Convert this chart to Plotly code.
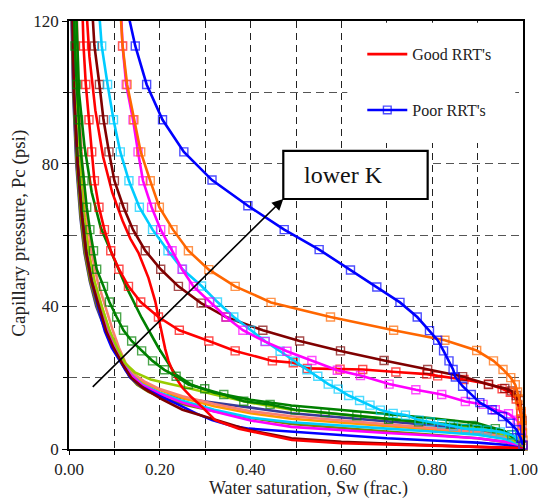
import plotly.graph_objects as go

FONT = "Liberation Serif"

# ---------------- Good RRT's (solid lines, no markers) ----------------
good_navy_sw = [0.004, 0.009, 0.016, 0.025, 0.034, 0.046, 0.060, 0.078, 0.093, 0.108, 0.125, 0.145, 0.175, 0.21, 0.26, 0.32, 0.40, 0.49, 0.60, 0.70, 0.80, 0.90, 0.96, 1.0]
good_navy_pc = [130, 100, 80, 65, 55, 47, 40, 34, 30, 26, 22, 19, 16.8, 15.2, 14.0, 12.9, 11.6, 10.0, 8.9, 7.9, 6.7, 5.2, 3.6, 0.5]

good_olive_sw = [0.005, 0.010, 0.017, 0.026, 0.035, 0.047, 0.062, 0.080, 0.095, 0.110, 0.122, 0.132, 0.150, 0.175, 0.21, 0.26, 0.32, 0.40, 0.49, 0.60, 0.70, 0.80, 0.90, 0.96, 1.0]
good_olive_pc = [130, 100, 80, 65, 55, 47, 40, 34, 30, 26, 23, 20.5, 18, 16, 14.2, 12.3, 10.6, 8.7, 7.0, 5.8, 4.9, 4.0, 3.0, 2.0, 0.3]

good_blue_sw = [0.006, 0.011, 0.019, 0.029, 0.038, 0.050, 0.064, 0.079, 0.094, 0.116, 0.135, 0.160, 0.197, 0.24, 0.28, 0.315, 0.356, 0.396, 0.49, 0.60, 0.70, 0.80, 0.90, 0.96, 1.0]
good_blue_pc = [130, 100, 80, 65, 55, 47, 40, 33, 28.4, 23.8, 20, 17.5, 15, 12.5, 10, 8.1, 6.6, 5.7, 4.8, 3.8, 3.0, 2.4, 1.8, 1.2, 0.2]

good_maroon_sw = [0.006, 0.011, 0.019, 0.029, 0.038, 0.050, 0.066, 0.082, 0.098, 0.118, 0.137, 0.165, 0.204, 0.25, 0.315, 0.396, 0.49, 0.60, 0.70, 0.80, 0.90, 1.0]
good_maroon_pc = [130, 100, 80, 65, 55, 47, 40, 33, 28.4, 23.8, 20, 17, 14, 11, 8.5, 5.3, 3.0, 2.0, 1.5, 1.0, 0.6, 0.1]

good_red_sw = [0.035, 0.045, 0.058, 0.075, 0.095, 0.118, 0.135, 0.153, 0.175, 0.190, 0.197, 0.205, 0.212, 0.219, 0.234, 0.249, 0.27, 0.293, 0.322, 0.374, 0.454, 0.491, 0.60, 0.70, 0.80, 0.90, 1.0]
good_red_pc = [130, 110, 95, 82, 72, 64, 59, 55, 48, 41.4, 37, 32, 28, 24.7, 20.2, 17.3, 14.5, 11.8, 8.1, 5.7, 3.4, 2.5, 1.6, 1.2, 0.9, 0.6, 0.3]

good_magenta_sw = [0.008, 0.013, 0.021, 0.031, 0.040, 0.052, 0.068, 0.085, 0.100, 0.118, 0.135, 0.160, 0.20, 0.25, 0.32, 0.40, 0.49, 0.60, 0.70, 0.80, 0.90, 0.96, 1.0]
good_magenta_pc = [130, 100, 80, 65, 55, 47, 40, 33, 28.4, 24, 21, 18, 15.5, 13, 10.5, 8.0, 6.2, 5.2, 4.5, 3.8, 3.0, 2.0, 0.4]

good_cyan_sw = [0.009, 0.014, 0.022, 0.032, 0.041, 0.053, 0.069, 0.086, 0.101, 0.118, 0.136, 0.162, 0.20, 0.25, 0.32, 0.40, 0.49, 0.60, 0.70, 0.80, 0.90, 0.96, 1.0]
good_cyan_pc = [130, 100, 80, 65, 55, 47, 40, 33, 28.4, 24, 21, 18, 15.8, 13.5, 11, 8.8, 7.5, 6.5, 5.7, 4.9, 4.0, 2.8, 0.5]

good_orange_sw = [0.012, 0.017, 0.025, 0.035, 0.044, 0.056, 0.072, 0.089, 0.104, 0.121, 0.140, 0.165, 0.20, 0.25, 0.32, 0.40, 0.49, 0.60, 0.70, 0.80, 0.90, 0.96, 1.0]
good_orange_pc = [130, 100, 80, 65, 55, 47, 40, 33, 28.4, 24, 21, 18.5, 16.5, 14.3, 12, 10, 8.5, 7.4, 6.5, 5.6, 4.5, 3.2, 0.6]

good_salmon_sw = [0.016, 0.021, 0.029, 0.040, 0.050, 0.063, 0.080, 0.097, 0.110, 0.125, 0.143, 0.168, 0.20, 0.25, 0.32, 0.40, 0.49, 0.60, 0.70, 0.80, 0.90, 0.96, 1.0]
good_salmon_pc = [130, 100, 80, 65, 55, 47, 40, 33, 28.4, 24, 21, 18.8, 16.8, 14.8, 12.6, 10.6, 9.2, 8.0, 7.0, 6.0, 4.8, 3.4, 0.7]

good_ygreen_sw = [0.010, 0.015, 0.023, 0.033, 0.043, 0.056, 0.072, 0.090, 0.106, 0.124, 0.145, 0.18, 0.22, 0.26, 0.32, 0.40, 0.49, 0.60, 0.70, 0.80, 0.90, 0.96, 1.0]
good_ygreen_pc = [130, 100, 80, 65, 55, 47, 40, 33, 28.4, 24, 21.5, 19.5, 18.3, 17.2, 15.3, 13, 11, 9.7, 8.5, 7.3, 5.8, 4.0, 0.8]

good_green_sw = [0.014, 0.022, 0.034, 0.050, 0.070, 0.093, 0.124, 0.160, 0.197, 0.234, 0.27, 0.32, 0.40, 0.49, 0.60, 0.70, 0.80, 0.90, 0.96, 1.0]
good_green_pc = [130, 100, 85, 72, 62, 55, 46, 36.8, 28.4, 21, 18, 15.8, 13.8, 12.2, 11.0, 9.8, 8.6, 7.2, 5.0, 1.0]

# ---------------- Poor RRT's (lines with open square markers) ----------------
poor_green_sw = [0.010, 0.013, 0.017, 0.021, 0.026, 0.033, 0.039, 0.046, 0.054, 0.061, 0.076, 0.089, 0.105, 0.120, 0.138, 0.160, 0.184, 0.210, 0.236, 0.263, 0.299, 0.341, 0.385, 0.443, 0.498, 0.564, 0.634, 0.704, 0.770, 0.840, 0.888, 0.939, 0.975, 1.0]
poor_green_pc = [130, 113, 102.2, 92.3, 83.3, 75.2, 67.8, 61.5, 55.6, 50.4, 45.6, 41.2, 37.0, 33.3, 30.3, 27.5, 24.7, 22.2, 20.4, 18.1, 16.9, 15.3, 13.4, 12.5, 11.0, 10.2, 9.3, 8.3, 7.6, 6.9, 6.6, 5.7, 4.0, 0.8]

poor_red_sw = [0.028, 0.032, 0.037, 0.044, 0.050, 0.056, 0.066, 0.078, 0.092, 0.110, 0.131, 0.158, 0.197, 0.243, 0.308, 0.366, 0.448, 0.494, 0.525, 0.597, 0.647, 0.720, 0.788, 0.812, 0.870, 0.924, 0.954, 0.972, 0.985, 0.995, 1.0]
poor_red_pc = [130, 113, 102.2, 92.3, 83.3, 75.2, 67.8, 61.5, 55.6, 50.4, 45.6, 41.2, 37.0, 33.3, 30.3, 27.5, 24.7, 24.2, 22.6, 22.4, 22.3, 21.6, 21.0, 20.5, 19.5, 18.2, 16.9, 15.9, 14.0, 10.0, 1.0]

poor_maroon_sw = [0.048, 0.056, 0.067, 0.076, 0.088, 0.100, 0.120, 0.141, 0.168, 0.202, 0.241, 0.291, 0.346, 0.427, 0.508, 0.598, 0.694, 0.790, 0.867, 0.924, 0.960, 0.975, 0.985, 0.994, 0.998, 1.0]
poor_maroon_pc = [130, 113, 102.2, 92.3, 83.3, 75.2, 67.8, 61.5, 55.6, 50.4, 45.6, 40.9, 37.0, 33.3, 30.3, 27.5, 24.8, 22.3, 20.3, 18.1, 17.0, 16.3, 15.0, 13.6, 8.0, 1.0]

poor_cyan_sw = [0.062, 0.072, 0.085, 0.098, 0.113, 0.132, 0.155, 0.184, 0.218, 0.250, 0.292, 0.327, 0.363, 0.400, 0.432, 0.465, 0.498, 0.524, 0.548, 0.571, 0.593, 0.616, 0.640, 0.663, 0.686, 0.714, 0.741, 0.771, 0.796, 0.821, 0.847, 0.873, 0.899, 0.921, 0.950, 0.976, 0.994, 1.0]
poor_cyan_pc = [130, 113, 102.2, 92.3, 83.3, 75.2, 67.8, 61.5, 55.6, 50.4, 45.7, 41.2, 37.0, 33.3, 30.2, 27.4, 24.6, 22.2, 20.4, 18.2, 16.8, 15.0, 13.6, 12.3, 10.9, 10.0, 9.5, 8.1, 7.6, 7.1, 6.4, 5.7, 5.5, 5.3, 4.8, 3.9, 2.5, 0.8]

poor_magenta_sw = [0.112, 0.118, 0.126, 0.141, 0.152, 0.163, 0.182, 0.202, 0.227, 0.249, 0.274, 0.310, 0.346, 0.383, 0.432, 0.480, 0.535, 0.591, 0.642, 0.705, 0.764, 0.821, 0.873, 0.912, 0.939, 0.968, 0.987, 0.997, 1.0]
poor_magenta_pc = [130, 113, 102.2, 92.3, 83.3, 75.2, 67.8, 61.5, 55.6, 50.4, 45.6, 41.2, 37.0, 33.3, 30.1, 27.4, 24.8, 22.1, 20.6, 18.2, 16.6, 15.3, 13.3, 12.5, 11.0, 9.9, 8.1, 5.0, 1.1]

poor_orange_sw = [0.110, 0.118, 0.128, 0.143, 0.158, 0.179, 0.199, 0.229, 0.263, 0.308, 0.366, 0.445, 0.576, 0.715, 0.828, 0.898, 0.935, 0.956, 0.973, 0.983, 0.988, 0.992, 0.994, 0.996, 0.997, 0.998, 0.999, 1.0, 1.0]
poor_orange_pc = [130, 113, 102.2, 92.3, 83.3, 75.2, 67.8, 61.5, 55.6, 50.3, 45.6, 41.1, 37.0, 33.3, 30.5, 27.6, 24.7, 22.3, 20.0, 18.0, 16.0, 14.0, 12.3, 10.5, 8.5, 6.5, 4.5, 2.5, 0.8]

poor_blue_sw = [0.125, 0.146, 0.171, 0.206, 0.253, 0.315, 0.394, 0.474, 0.551, 0.620, 0.678, 0.729, 0.767, 0.794, 0.812, 0.825, 0.837, 0.846, 0.851, 0.867, 0.886, 0.905, 0.932, 0.955, 0.972, 0.986, 0.995, 1.0]
poor_blue_pc = [125, 113, 102.2, 92.3, 83.3, 75.4, 68.2, 61.5, 55.9, 50.2, 45.4, 41.1, 37.0, 33.2, 30.5, 27.5, 24.7, 22.3, 20.2, 17.6, 15.3, 13.0, 11.0, 9.1, 7.2, 5.4, 3.0, 1.1]

good_curves = [
    ("#3A3A98", good_navy_sw, good_navy_pc),
    ("#808000", good_olive_sw, good_olive_pc),
    ("#FF9900", good_orange_sw, good_orange_pc),
    ("#FA8072", good_salmon_sw, good_salmon_pc),
    ("#00CCFF", good_cyan_sw, good_cyan_pc),
    ("#FF00FF", good_magenta_sw, good_magenta_pc),
    ("#99CC00", good_ygreen_sw, good_ygreen_pc),
    ("#008000", good_green_sw, good_green_pc),
    ("#0000FF", good_blue_sw, good_blue_pc),
    ("#800000", good_maroon_sw, good_maroon_pc),
    ("#FF0000", good_red_sw, good_red_pc),
]

poor_curves = [
    ("#008000", poor_green_sw, poor_green_pc),
    ("#FF0000", poor_red_sw, poor_red_pc),
    ("#800000", poor_maroon_sw, poor_maroon_pc),
    ("#00CCFF", poor_cyan_sw, poor_cyan_pc),
    ("#FF00FF", poor_magenta_sw, poor_magenta_pc),
    ("#FF6600", poor_orange_sw, poor_orange_pc),
    ("#0000FF", poor_blue_sw, poor_blue_pc),
]

fig = go.Figure()

for color, sw, pc in good_curves:
    is_leg = color == "#FF0000"
    fig.add_trace(go.Scatter(
        x=sw, y=pc, mode="lines",
        line=dict(color=color, width=2.6),
        name="Good RRT's", showlegend=is_leg, legendgroup="good", legendrank=1,
        hoverinfo="skip",
    ))

for color, sw, pc in poor_curves:
    is_leg = color == "#0000FF"
    sizes = [0 if p > 120 else 8 for p in pc]
    fig.add_trace(go.Scatter(
        x=sw, y=pc, mode="lines+markers",
        line=dict(color=color, width=2.6),
        marker=dict(symbol="square-open", size=sizes, color=color, line=dict(width=1.4, color=color)),
        name="Poor RRT's", showlegend=is_leg, legendgroup="poor", legendrank=2,
        cliponaxis=False, hoverinfo="skip",
    ))

x0px, x1px = 69.3, 522.6

fig.update_layout(
    width=551, height=499,
    margin=dict(l=69, r=28, t=17, b=50),
    paper_bgcolor="white", plot_bgcolor="white",
    font=dict(family=FONT, size=17, color="#222"),
    showlegend=True,
    legend=dict(x=0.646, xanchor="left", y=0.962, yanchor="top", itemwidth=40,
                bgcolor="rgba(0,0,0,0)", font=dict(family=FONT, size=16, color="#222"),
                tracegroupgap=32, traceorder="grouped"),
    xaxis=dict(range=[0, 1], tick0=0, dtick=0.2, tickformat=".2f",
               showline=True, linecolor="black", linewidth=1.5, mirror=True,
               ticks="outside", ticklen=4, tickcolor="black",
               showgrid=True, gridcolor="#222", gridwidth=1, griddash="7px,5px",
               zeroline=False,
               minor=dict(dtick=0.1, showgrid=True, gridcolor="#222", gridwidth=1, griddash="7px,5px",
                          ticks="outside", ticklen=4, tickcolor="black"),
               tickfont=dict(family=FONT, size=17, color="#222")),
    yaxis=dict(range=[0, 120], tick0=0, dtick=40,
               showline=True, linecolor="black", linewidth=1.5, mirror=True,
               ticks="outside", ticklen=5, tickcolor="black",
               showgrid=True, gridcolor="#555", gridwidth=1, griddash="8px,5px",
               zeroline=False,
               minor=dict(dtick=20, showgrid=True, gridcolor="#555", gridwidth=1, griddash="8px,5px",
                          ticks="outside", ticklen=4, tickcolor="black"),
               tickfont=dict(family=FONT, size=17, color="#222")),
)

# white area behind the legend
fig.add_shape(type="rect", xref="x", yref="y", x0=0.613, x1=0.983, y0=85.8, y1=119.5,
              fillcolor="white", line=dict(width=0), layer="above")
# "lower K" box
fig.add_shape(type="rect", xref="x", yref="y", x0=0.472, x1=0.79, y0=70.1, y1=83.6,
              fillcolor="white", line=dict(color="black", width=2.2), layer="above")

fig.add_annotation(x=0.604, y=76.9, xref="x", yref="y", text="lower K", showarrow=False,
                   font=dict(family=FONT, size=24, color="#111"))
fig.add_annotation(x=0.472, y=70.1, ax=0.049, ay=17, xref="x", yref="y", axref="x", ayref="y",
                   text="", showarrow=True, arrowhead=2, arrowsize=1.4, arrowwidth=1.6,
                   arrowcolor="black")

# axis titles
fig.add_annotation(x=(308 - x0px) / (x1px - x0px), y=(449 - 489) / 432, xref="paper", yref="paper",
                   text="Water saturation, Sw (frac.)", showarrow=False,
                   font=dict(family=FONT, size=18, color="#222"), yanchor="middle")
fig.add_annotation(x=(18.5 - x0px) / (x1px - x0px), y=(449 - 231.5) / 432, xref="paper", yref="paper",
                   text="Capillary pressure, Pc (psi)", showarrow=False, textangle=-90,
                   font=dict(family=FONT, size=19, color="#222"), xanchor="center", yanchor="middle")

fig.write_html("out.html")
